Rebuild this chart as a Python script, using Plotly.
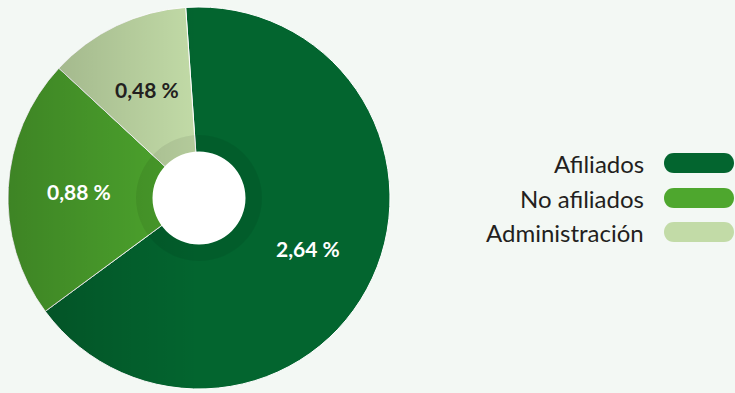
import base64
import math
import plotly.graph_objects as go

labels = ["Afiliados", "No afiliados", "Administración"]
values = [2.64, 0.88, 0.48]
text_labels = ["2,64 %", "0,88 %", "0,48 %"]
colors = ["#03652f", "#4ea72e", "#c2dba7"]
text_colors = ["#ffffff", "#ffffff", "#231f20"]

W, H = 735, 393
BG = "#f3f8f4"
cx, cy, R = 199, 198, 191
r_ring, r_hole = 63, 46.5
ROT = -4


def dom(r):
    return dict(x=[(cx - r) / W, (cx + r) / W], y=[(H - cy - r) / H, (H - cy + r) / H])


fig = go.Figure()
fig.add_trace(go.Pie(
    labels=labels, values=values, textinfo="none",
    sort=False, direction="clockwise", rotation=ROT,
    marker=dict(colors=colors, line=dict(color="#ffffff", width=1)),
    domain=dom(R), showlegend=False, hoverinfo="label+percent",
))
fig.add_trace(go.Pie(
    values=[1], labels=["ring"], textinfo="none", hoverinfo="skip",
    marker=dict(colors=["rgba(0,0,0,0.07)"], line=dict(width=0)),
    hole=r_hole / r_ring, domain=dom(r_ring), showlegend=False, sort=False,
))
fig.add_trace(go.Pie(
    values=[1], labels=["center"], textinfo="none", hoverinfo="skip",
    marker=dict(colors=["#ffffff"], line=dict(width=0)),
    domain=dom(r_hole), showlegend=False, sort=False,
))

# horizontal shading overlay (darker toward the left), clipped to the ring area
D = 2 * R
svg = f'''<svg xmlns="http://www.w3.org/2000/svg" width="{D}" height="{D}" viewBox="0 0 {D} {D}">
<defs><linearGradient id="g" x1="0" y1="0" x2="1" y2="0">
<stop offset="0" stop-color="#000" stop-opacity="0.21"/>
<stop offset="0.5" stop-color="#000" stop-opacity="0"/>
</linearGradient></defs>
<path fill="url(#g)" fill-rule="evenodd" d="M {R},0 A {R},{R} 0 1 1 {R},{D} A {R},{R} 0 1 1 {R},0 Z
M {R},{R - r_hole} A {r_hole},{r_hole} 0 1 0 {R},{R + r_hole} A {r_hole},{r_hole} 0 1 0 {R},{R - r_hole} Z"/>
</svg>'''
src = "data:image/svg+xml;base64," + base64.b64encode(svg.encode()).decode()
fig.add_layout_image(source=src, xref="x", yref="y", x=cx - R, y=H - (cy - R),
                     sizex=D, sizey=D, xanchor="left", yanchor="top",
                     sizing="stretch", layer="above")

# slice labels placed along each slice's mid-angle
total = sum(values)
cum = 0.0
for v, t, tc in zip(values, text_labels, text_colors):
    ang = math.radians(ROT + 360 * (cum + v / 2) / total)
    cum += v
    rl = 0.63 * R
    fig.add_annotation(
        x=cx + rl * math.sin(ang), y=H - (cy - rl * math.cos(ang)),
        xref="x", yref="y", text=f"<b>{t}</b>", showarrow=False,
        xanchor="center", yanchor="middle",
        font=dict(family="Lato", size=21, color=tc),
    )

# custom legend: text on the left, rounded bar on the right
row_y = [163, 198, 232]
bar_x0, bar_x1, bar_h = 664, 734, 20
for lab, col, yy in zip(labels, colors, row_y):
    fig.add_annotation(
        x=646, y=H - yy, xref="x", yref="y", text=lab, showarrow=False,
        xanchor="right", yanchor="middle",
        font=dict(family="Lato", size=24, color="#231f20"),
    )
    rr = bar_h / 2
    k = 4 * rr / 3
    y0, y1 = H - yy - rr, H - yy + rr
    path = (f"M {bar_x0 + rr},{y0} L {bar_x1 - rr},{y0} "
            f"C {bar_x1 - rr + k},{y0} {bar_x1 - rr + k},{y1} {bar_x1 - rr},{y1} "
            f"L {bar_x0 + rr},{y1} "
            f"C {bar_x0 + rr - k},{y1} {bar_x0 + rr - k},{y0} {bar_x0 + rr},{y0} Z")
    fig.add_shape(type="path", path=path, xref="x", yref="y",
                  fillcolor=col, line=dict(width=0))

fig.update_xaxes(range=[0, W], visible=False, fixedrange=True)
fig.update_yaxes(range=[0, H], visible=False, fixedrange=True)
fig.update_layout(
    width=W, height=H, margin=dict(l=0, r=0, t=0, b=0),
    paper_bgcolor=BG, plot_bgcolor=BG,
)
fig.write_html("out.html")
